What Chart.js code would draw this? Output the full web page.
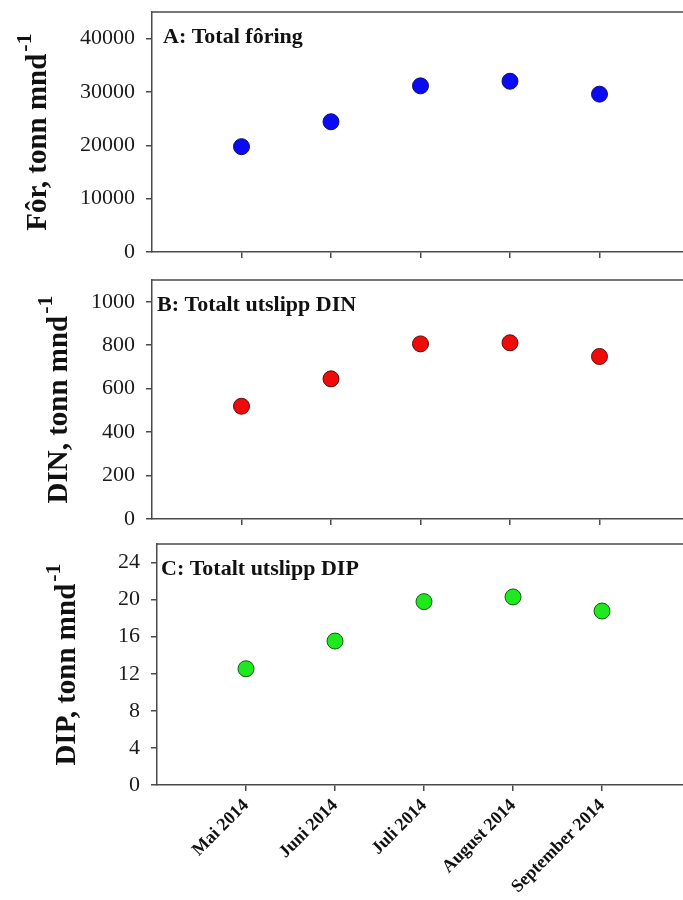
<!DOCTYPE html>
<html>
<head>
<meta charset="utf-8">
<script src="https://cdn.jsdelivr.net/npm/chart.js@4.4.1/dist/chart.umd.min.js"></script>
<style>
  html, body { margin: 0; padding: 0; background: #fff; overflow: hidden; width: 683px; height: 900px; }
  .panel { position: absolute; left: 0; width: 700px; }
  #panelA { top: 0; height: 270px; }
  #panelB { top: 270px; height: 270px; }
  #panelC { top: 530px; height: 370px; }
</style>
</head>
<body>
<div class="panel" id="panelA"><canvas id="chartA"></canvas></div>
<div class="panel" id="panelB"><canvas id="chartB"></canvas></div>
<div class="panel" id="panelC"><canvas id="chartC"></canvas></div>
<script>
// data
const months = ['Mai 2014', 'Juni 2014', 'Juli 2014', 'August 2014', 'September 2014'];
const feedValues = [19750, 24420, 31150, 32020, 29600];
const dinValues = [519, 645, 806, 811, 748];
const dipValues = [12.54, 15.53, 19.78, 20.29, 18.77];
const feedTicks = [0, 10000, 20000, 30000, 40000];
const dinTicks = [0, 200, 400, 600, 800, 1000];
const dipTicks = [0, 4, 8, 12, 16, 20, 24];

const axisColor = '#4a4a4a';
const serif = "'Liberation Serif', 'Times New Roman', serif";

// frame top line, panel title and y title with superscript
const panelDecor = {
  id: 'panelDecor',
  afterDraw(chart, args, opts) {
    const { ctx, chartArea } = chart;
    ctx.save();
    ctx.strokeStyle = axisColor;
    ctx.lineWidth = 1.5;
    ctx.beginPath();
    ctx.moveTo(chartArea.left, chartArea.top);
    ctx.lineTo(chartArea.right, chartArea.top);
    ctx.stroke();

    ctx.fillStyle = '#111';
    ctx.font = 'bold 22px ' + serif;
    ctx.textBaseline = 'alphabetic';
    ctx.textAlign = 'left';
    ctx.fillText(opts.title, chartArea.left + opts.titleDx, chartArea.top + 31);

    const midY = (chartArea.top + chartArea.bottom) / 2;
    ctx.translate(opts.yTitleX, midY);
    ctx.rotate(-Math.PI / 2);
    ctx.font = 'bold 29px ' + serif;
    const w1 = ctx.measureText(opts.yTitle).width;
    ctx.font = 'bold 22px ' + serif;
    const w2 = ctx.measureText('-1').width;
    const start = -(w1 + w2 + 2) / 2;
    ctx.font = 'bold 29px ' + serif;
    ctx.fillText(opts.yTitle, start, 0);
    ctx.font = 'bold 22px ' + serif;
    ctx.fillText('-1', start + w1 + 2, -15);
    ctx.restore();
  }
};

function makePanel(id, values, ticks, yMax, color, border, o) {
  return new Chart(document.getElementById(id), {
    type: 'scatter',
    data: {
      datasets: [{
        data: months.map((m, i) => ({ x: i + 1, y: values[i] })),
        backgroundColor: color,
        borderColor: border,
        borderWidth: 1,
        pointRadius: 8,
        pointHoverRadius: 8
      }]
    },
    options: {
      responsive: true,
      maintainAspectRatio: false,
      animation: false,
      layout: { padding: { top: o.padTop, right: o.padRight, left: 0, bottom: 0 } },
      plugins: {
        legend: { display: false },
        tooltip: { enabled: false },
        panelDecor: { title: o.title, titleDx: o.titleDx, yTitle: o.yTitle, yTitleX: o.yTitleX }
      },
      scales: {
        x: {
          type: 'linear',
          min: 0,
          max: 6,
          afterBuildTicks: (s) => { s.ticks = [0, 1, 2, 3, 4, 5, 6].map(v => ({ value: v })); },
          afterFit: (s) => { s.height = o.xHeight; s.paddingLeft = 0; s.paddingRight = 0; },
          border: { display: true, color: axisColor, width: 1.5 },
          grid: {
            drawOnChartArea: false,
            drawTicks: true,
            tickLength: 6,
            lineWidth: 1.5,
            color: (c) => (c.tick && c.tick.value >= 1 && c.tick.value <= 5) ? axisColor : 'rgba(0,0,0,0)'
          },
          ticks: {
            display: o.showMonths,
            autoSkip: false,
            minRotation: 45,
            maxRotation: 45,
            padding: 4,
            color: '#111',
            font: { family: serif, size: 18, weight: 'bold' },
            callback: (v) => months[v - 1] || ''
          }
        },
        y: {
          min: 0,
          max: yMax,
          afterBuildTicks: (s) => { s.ticks = ticks.map(v => ({ value: v })); },
          afterFit: (s) => { s.width = o.yWidth; s.paddingTop = 0; s.paddingBottom = 0; },
          border: { display: true, color: axisColor, width: 1.5 },
          grid: {
            drawOnChartArea: false,
            drawTicks: true,
            tickLength: 6,
            lineWidth: 1.5,
            color: axisColor
          },
          ticks: {
            padding: 11,
            color: '#1a1a1a',
            font: { family: serif, size: 22 },
            callback: (v) => String(v)
          }
        }
      }
    },
    plugins: [panelDecor]
  });
}

makePanel('chartA', feedValues, feedTicks, 45000, '#0a0af5', '#10106a', {
  padTop: 12, padRight: 11, xHeight: 18, yWidth: 152, showMonths: false,
  title: 'A: Total fôring', titleDx: 11, yTitle: 'Fôr, tonn mnd', yTitleX: 46
});
makePanel('chartB', dinValues, dinTicks, 1100, '#f00a0a', '#5a0c0c', {
  padTop: 10, padRight: 11, xHeight: 21, yWidth: 152, showMonths: false,
  title: 'B: Totalt utslipp DIN', titleDx: 5, yTitle: 'DIN, tonn mnd', yTitleX: 67
});
makePanel('chartC', dipValues, dipTicks, 26, '#1ee81e', '#125a12', {
  padTop: 14, padRight: 7, xHeight: 115, yWidth: 157, showMonths: true,
  title: 'C: Totalt utslipp DIP', titleDx: 4, yTitle: 'DIP, tonn mnd', yTitleX: 75
});
</script>
</body>
</html>
